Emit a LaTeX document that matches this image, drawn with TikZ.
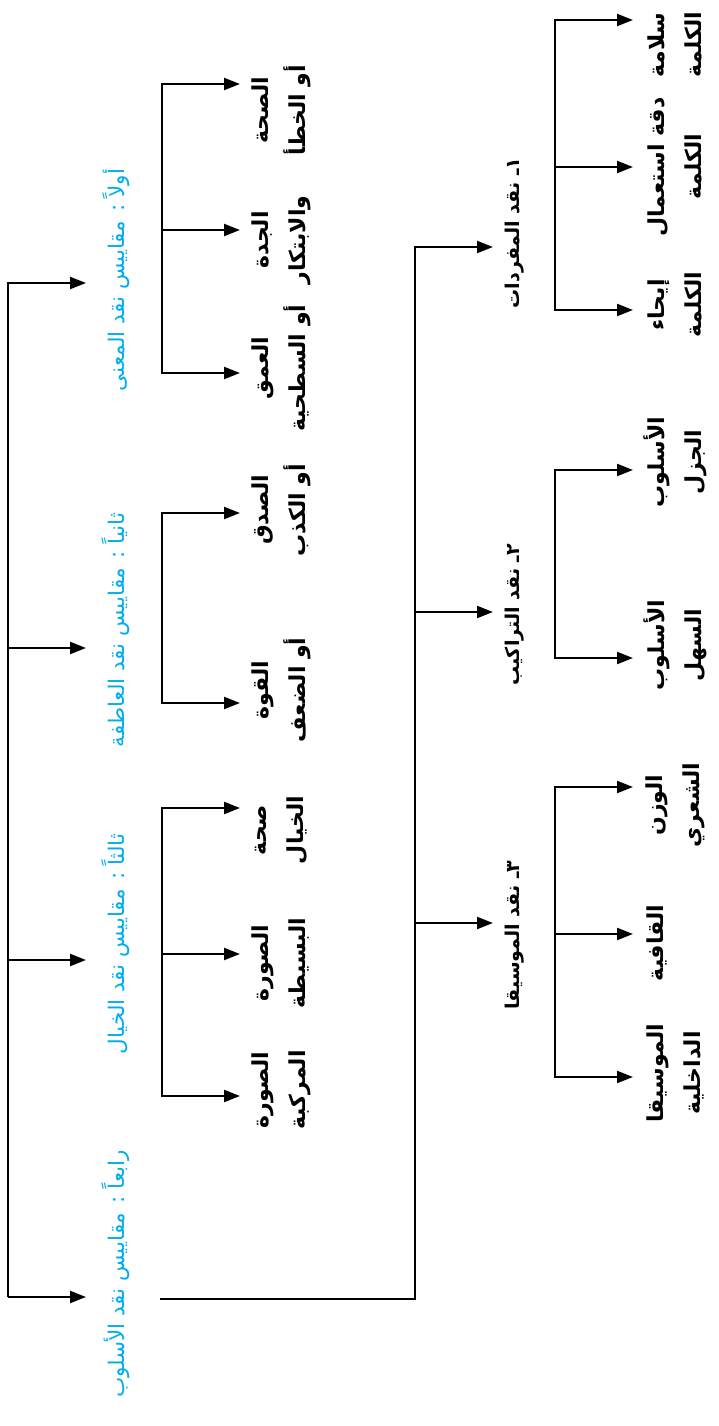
\documentclass[tikz,border=0pt]{standalone}
\usepackage{fontspec}
\usetikzlibrary{arrows.meta}
\TeXXeTstate=1
\newfontfamily\arfont[Script=Arabic]{DejaVu Sans}
\definecolor{cyanA}{RGB}{0,174,239}
\newcommand\AR[1]{\beginR #1\endR}
\tikzset{
  conn/.style={line width=2.2pt, line join=miter},
  arr/.style={conn, -{Triangle[length=16pt,width=12pt]}},
  head/.style={rotate=90, text=cyanA, font=\arfont\fontsize{21.5}{26}\selectfont, inner sep=0pt},
  leaf/.style={rotate=90, align=center, font=\arfont\bfseries\fontsize{22}{37}\selectfont, inner sep=0pt},
  subhead/.style={rotate=90, font=\arfont\bfseries\fontsize{19}{24}\selectfont, inner sep=0pt},
}
\begin{document}
\begin{tikzpicture}[x=1pt, y=-1pt]
\useasboundingbox (0,0) rectangle (718,1426);

% ---- headings (blue)
\node[head] (h1) at (116,280)  {\AR{أولاً : مقاييس نقد المعنى}};
\node[head] (h2) at (116,630)  {\AR{ثانياً : مقاييس نقد العاطفة}};
\node[head] (h3) at (116,944)  {\AR{ثالثاً : مقاييس نقد الخيال}};
\node[head] (h4) at (116,1274) {\AR{رابعاً : مقاييس نقد الأسلوب}};

% ---- leaves, first group
\node[leaf] (a1) at (281,110) {\AR{الصحة}\\\AR{أو الخطأ}};
\node[leaf] (a2) at (281,240) {\AR{الجدة}\\\AR{والابتكار}};
\node[leaf] (a3) at (281,368) {\AR{العمق}\\\AR{أو السطحية}};
\node[leaf] (b1) at (281,510) {\AR{الصدق}\\\AR{أو الكذب}};
\node[leaf] (b2) at (281,690) {\AR{القوة}\\\AR{أو الضعف}};
\node[leaf] (c1) at (281,830) {\AR{صحة}\\\AR{الخيال}};
\node[leaf] (c2) at (281,963) {\AR{الصورة}\\\AR{البسيطة}};
\node[leaf] (c3) at (281,1090) {\AR{الصورة}\\\AR{المركبة}};

% ---- style subheads
\node[subhead] (s1) at (515,233) {\AR{١ـ نقد المفردات}};
\node[subhead] (s2) at (515,615) {\AR{٢ـ نقد التراكيب}};
\node[subhead] (s3) at (515,935) {\AR{٣ـ نقد الموسيقا}};

% ---- style leaves
\node[leaf] (d1) at (675,45)  {\AR{سلامة}\\\AR{الكلمة}};
\node[leaf] (d2) at (675,167) {\AR{دقة استعمال}\\\AR{الكلمة}};
\node[leaf] (d3) at (675,305) {\AR{إيحاء}\\\AR{الكلمة}};
\node[leaf] (e1) at (675,462) {\AR{الأسلوب}\\\AR{الجزل}};
\node[leaf] (e2) at (675,645) {\AR{الأسلوب}\\\AR{السهل}};
\node[leaf] (f1) at (675,805) {\AR{الوزن}\\\AR{الشعري}};
\node[leaf] (f2) at (657,943) {\AR{القافية}};
\node[leaf] (f3) at (675,1073) {\AR{الموسيقا}\\\AR{الداخلية}};

% ---- coordinates: root
\coordinate (R1) at (8,283);  \coordinate (T1) at (86,283);
\coordinate (R2) at (8,648);  \coordinate (T2) at (86,648);
\coordinate (R3) at (8,960);  \coordinate (T3) at (86,960);
\coordinate (R4) at (8,1297); \coordinate (T4) at (86,1297);
\draw[arr] (R4) -- (R1) -- (T1);
\draw[arr] (R2) -- (T2);
\draw[arr] (R3) -- (T3);
\draw[arr] (R4) -- (T4);

% ---- group A
\coordinate (A1) at (162,84);  \coordinate (TA1) at (240,84);
\coordinate (A2) at (162,230); \coordinate (TA2) at (240,230);
\coordinate (A3) at (162,373); \coordinate (TA3) at (240,373);
\draw[arr] (A3) -- (A1) -- (TA1);
\draw[arr] (A2) -- (TA2);
\draw[arr] (A1) -- (A3) -- (TA3);

% ---- group B
\coordinate (B1) at (162,513); \coordinate (TB1) at (240,513);
\coordinate (B2) at (162,703); \coordinate (TB2) at (240,703);
\draw[arr] (B2) -- (B1) -- (TB1);
\draw[arr] (B1) -- (B2) -- (TB2);

% ---- group C
\coordinate (C1) at (162,808);  \coordinate (TC1) at (240,808);
\coordinate (C2) at (162,954);  \coordinate (TC2) at (240,954);
\coordinate (C3) at (162,1096); \coordinate (TC3) at (240,1096);
\draw[arr] (C3) -- (C1) -- (TC1);
\draw[arr] (C2) -- (TC2);
\draw[arr] (C1) -- (C3) -- (TC3);

% ---- style tree
\coordinate (H4e) at (160,1299);
\coordinate (S0) at (415,1299);
\coordinate (S1) at (415,247); \coordinate (TS1) at (493,247);
\coordinate (S2) at (415,612); \coordinate (TS2) at (493,612);
\coordinate (S3) at (415,923); \coordinate (TS3) at (493,923);
\draw[arr] (H4e) -- (S0) -- (S1) -- (TS1);
\draw[arr] (S2) -- (TS2);
\draw[arr] (S3) -- (TS3);

% ---- group D
\coordinate (D1) at (555,20);  \coordinate (TD1) at (633,20);
\coordinate (D2) at (555,167); \coordinate (TD2) at (633,167);
\coordinate (D3) at (555,310); \coordinate (TD3) at (633,310);
\draw[arr] (D3) -- (D1) -- (TD1);
\draw[arr] (D2) -- (TD2);
\draw[arr] (D1) -- (D3) -- (TD3);

% ---- group E
\coordinate (E1) at (555,470); \coordinate (TE1) at (633,470);
\coordinate (E2) at (555,658); \coordinate (TE2) at (633,658);
\draw[arr] (E2) -- (E1) -- (TE1);
\draw[arr] (E1) -- (E2) -- (TE2);

% ---- group F
\coordinate (F1) at (555,787);  \coordinate (TF1) at (633,787);
\coordinate (F2) at (555,934);  \coordinate (TF2) at (633,934);
\coordinate (F3) at (555,1077); \coordinate (TF3) at (633,1077);
\draw[arr] (F3) -- (F1) -- (TF1);
\draw[arr] (F2) -- (TF2);
\draw[arr] (F1) -- (F3) -- (TF3);
\end{tikzpicture}
\end{document}
